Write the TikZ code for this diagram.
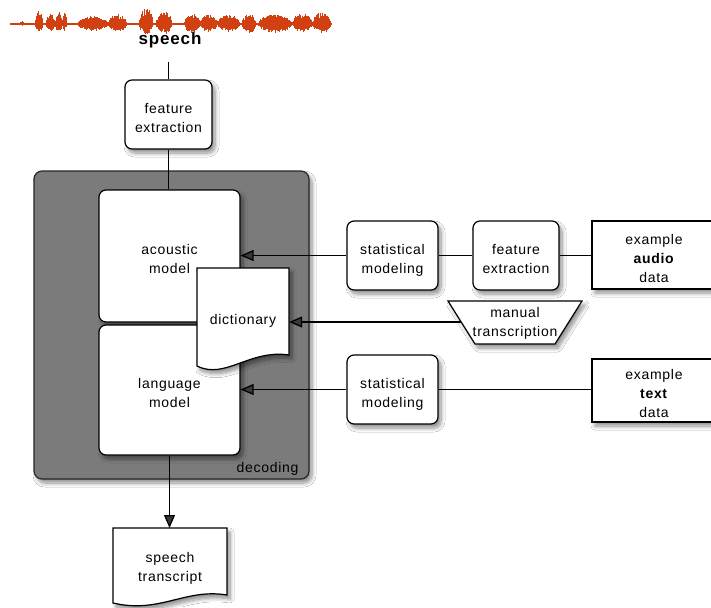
\documentclass[tikz,border=0pt]{standalone}
\usepackage{fontspec}
\setmainfont{Liberation Sans}[LetterSpace=5]
\usetikzlibrary{arrows.meta,shadows.blur,calc}
\definecolor{wavecol}{RGB}{208,64,16}
\definecolor{decgray}{RGB}{123,123,123}

\begin{document}
\begin{tikzpicture}[x=1pt,y=-1pt,
  every node/.style={font=\fontsize{14}{19}\selectfont, align=center},
  shade/.style={blur shadow={shadow xshift=3pt,shadow yshift=-4pt,
      shadow blur radius=4pt,shadow blur steps=8,shadow opacity=45}},
  rbox/.style={draw, fill=white, line width=1.2pt, rounded corners=7pt, shade, inner sep=0pt},
  sbox/.style={draw, fill=white, line width=1.2pt, shade, inner sep=0pt},
  twolines/.style={text height=35pt, text depth=0pt},
  threelines/.style={text height=54pt, text depth=0pt},
  shapeline/.style={draw, fill=white, line width=1.2pt, shade},
  wire/.style={line width=1.3pt},
  arr/.style={wire, -{Triangle[length=13pt,width=11pt]}},
]
\useasboundingbox[fill=white] (0,0) rectangle (711,607);

% speech waveform
\begin{scope}[wavecol, line width=0.9pt]
  \draw[line width=1.3pt] (10,24) -- (332,24);
  \pgfmathsetseed{11}
  \foreach \a/\b/\u/\d in {20/24/4/2, 35/43/14/9, 46/55/11/8, 55/62/12/9,
      62/67/11/7, 77/108/8/7, 108/127/10/8, 139/153/16/10, 156/172/13/10,
      184/200/11/9, 200/217/10/8, 217/240/10/8, 242/256/11/9, 258/292/10/9,
      292/312/11/8, 312/331/12/9}{
    \pgfmathtruncatemacro\n{(\b-\a)/0.5}
    \foreach \i in {0,...,\n}{
      \pgfmathsetmacro\xx{\a+\i*0.5}
      \pgfmathsetmacro\w{sqrt(abs(sin(180*\i/\n)))}
      \pgfmathsetmacro\yt{24-\u*\w*(0.5+0.5*rnd)}
      \pgfmathsetmacro\yb{24+\d*\w*(0.5+0.5*rnd)}
      \draw (\xx,\yt) -- (\xx,\yb);
    }
  }
\end{scope}
\node[font=\bfseries\fontsize{17}{20}\selectfont] (speech) at (170,40) {speech};
\coordinate (wavebot) at (168.5,62);

% front end
\node[rbox, twolines, minimum width=87pt, minimum height=69pt] (fe1) at (168.5,114.5) {feature\\extraction};

% decoder block
\node[draw=black!85, fill=decgray, line width=1.2pt, rounded corners=8pt, shade,
      minimum width=275pt, minimum height=308pt, inner sep=0pt] (dec) at (171.5,325) {};
\node[anchor=base east] (declabel) at (302,472) {decoding};
\node[rbox, twolines, minimum width=141pt, minimum height=132pt] (acoustic) at (169.5,256) {acoustic\\model};
\node[rbox, twolines, minimum width=141pt, minimum height=130pt] (language) at (169.5,390) {language\\model};

% dictionary (document shape)
\path[shapeline] (197,268) -- (289,268) -- (289,355)
   .. controls (250,349) and (225,380) .. (197,366) -- cycle;
\node[minimum width=92pt, inner sep=0pt] (dict) at (243,321) {dictionary};

% acoustic training path
\node[rbox, twolines, minimum width=91pt, minimum height=69pt] (stat1) at (392.5,255.5) {statistical\\modeling};
\node[rbox, twolines, minimum width=86pt, minimum height=69pt] (fe2) at (516,255.5) {feature\\extraction};
\node[sbox, threelines, minimum width=124pt, minimum height=68pt] (audio) at (654,255) {example\\\textbf{audio}\\data};

% manual transcription (trapezoid)
\path[shapeline] (448,301) -- (582,301) -- (555,344) -- (475,344) -- cycle;
\node (manual) at (515,323) {manual\\transcription};
\coordinate (trapL) at (461,322);

% language training path
\node[rbox, twolines, minimum width=91pt, minimum height=69pt] (stat2) at (392.5,389.5) {statistical\\modeling};
\node[sbox, threelines, minimum width=124pt, minimum height=63pt] (textdata) at (654,390.5) {example\\\textbf{text}\\data};

% output transcript (document shape)
\path[shapeline] (113,528) -- (227,528) -- (227,595)
   .. controls (185,588) and (160,614) .. (113,603) -- cycle;
\node (transcript) at (170,568) {speech\\transcript};
\coordinate (tTop) at (169.5,528);

% connectors
\draw[wire] (wavebot) -- (fe1.north);
\draw[wire] (fe1.south) -- (fe1.south |- acoustic.north);
\draw[arr] (stat1.west) -- (stat1.west -| acoustic.east);
\draw[wire] (stat1.east) -- (fe2.west);
\draw[wire] (fe2.east) -- (fe2.east -| audio.west);
\draw[arr] (trapL) -- (trapL -| dict.east);
\draw[arr] (stat2.west) -- (stat2.west -| language.east);
\draw[wire] (stat2.east) -- (stat2.east -| textdata.west);
\draw[arr] (language.south) -- (tTop);
\end{tikzpicture}
\end{document}
